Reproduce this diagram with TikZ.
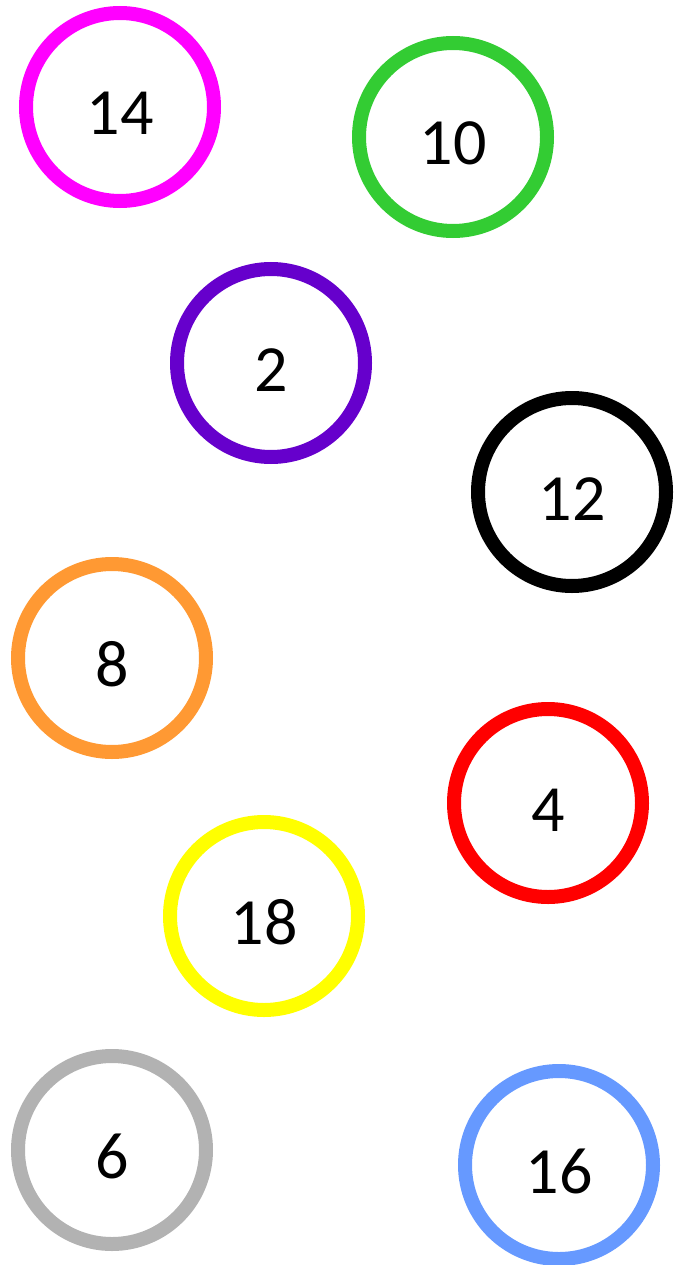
\documentclass[tikz,border=0pt]{standalone}
\usepackage{fontspec}
\setmainfont{Carlito}
\usepackage{tikz}

\definecolor{ringmagenta}{HTML}{FF00FF}
\definecolor{ringgreen}{HTML}{33CC33}
\definecolor{ringpurple}{HTML}{6600CC}
\definecolor{ringorange}{HTML}{FF9933}
\definecolor{ringred}{HTML}{FF0000}
\definecolor{ringyellow}{HTML}{FFFF00}
\definecolor{ringgray}{HTML}{B2B2B2}
\definecolor{ringblue}{HTML}{6699FF}

\begin{document}
\begin{tikzpicture}[x=1pt, y=-1pt,
  ring/.style={circle, draw, line width=14pt, minimum size=188pt, inner sep=0pt,
    text height=56pt, text depth=0pt, font=\fontsize{66}{79}\selectfont}]
  \useasboundingbox (0,0) rectangle (675,1265);
  \node (n14) [ring, draw=ringmagenta] at (120,107) {14};
  \node (n10) [ring, draw=ringgreen] at (453,137) {10};
  \node (n2) [ring, draw=ringpurple] at (271,363) {2};
  \node (n12) [ring, draw=black] at (572,492) {12};
  \node (n8) [ring, draw=ringorange] at (112,658) {8};
  \node (n4) [ring, draw=ringred] at (548,803) {4};
  \node (n18) [ring, draw=ringyellow] at (264,916) {18};
  \node (n6) [ring, draw=ringgray] at (112,1150) {6};
  \node (n16) [ring, draw=ringblue] at (559,1165) {16};
\end{tikzpicture}
\end{document}
